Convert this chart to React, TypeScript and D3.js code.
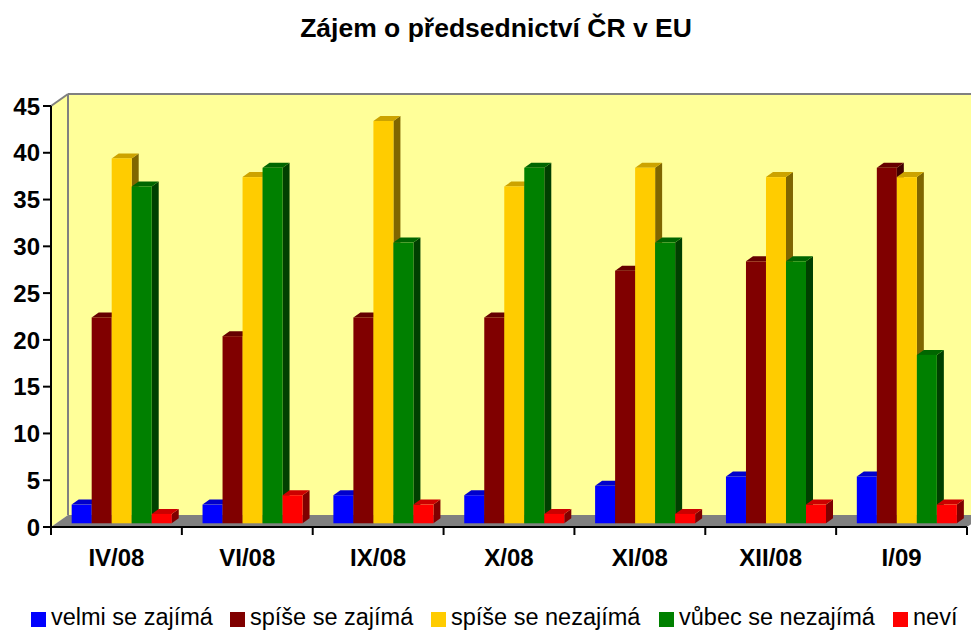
import React from "react";
import * as d3 from "d3";

const categories = ["IV/08", "VI/08", "IX/08", "X/08", "XI/08", "XII/08", "I/09"];
const seriesNames = ["velmi se zajímá", "spíše se zajímá", "spíše se nezajímá", "vůbec se nezajímá", "neví"];
const velmi = [2, 2, 3, 3, 4, 5, 5];
const spiseZaj = [22, 20, 22, 22, 27, 28, 38];
const spiseNez = [39, 37, 43, 36, 38, 37, 37];
const vubec = [36, 38, 30, 38, 30, 28, 18];
const nevi = [1, 3, 2, 1, 1, 2, 2];
const yTicks = [0, 5, 10, 15, 20, 25, 30, 35, 40, 45];
const colors = ["#0000FF", "#800000", "#FFCC00", "#008000", "#FF0000"];

const seriesValues = [velmi, spiseZaj, spiseNez, vubec, nevi];

const W = 971;
const H = 631;
const FONT = "'Liberation Sans', Arial, Helvetica, sans-serif";

export default function App() {
  const x0 = 51, x1 = 967, yBottom = 527, yTop = 106;
  const DX = 17, DY = 12; // chart depth
  const y = d3.scaleLinear().domain([0, 45]).range([yBottom, yTop]);
  const xBand = d3.scaleBand<string>().domain(categories).range([x0, x1]).paddingInner(0).paddingOuter(0);
  const inner = d3.scaleBand<string>().domain(seriesNames).range([0, xBand.bandwidth()]).paddingInner(0).paddingOuter(0.77);
  const barFrontD = 0.31;
  const bdx = 7, bdy = 5;
  const shiftX = DX * barFrontD, shiftY = DY * barFrontD;

  const darker = (c: string, k: number) => {
    const col = d3.rgb(c);
    return d3.rgb(col.r * k, col.g * k, col.b * k).toString();
  };

  const bars: JSX.Element[] = [];
  categories.forEach((cat, ci) => {
    seriesNames.forEach((s, si) => {
      const v = seriesValues[si][ci];
      const bx = (xBand(cat) as number) + (inner(s) as number) + shiftX;
      const bw = inner.bandwidth();
      const yb = y(0) - shiftY;
      const yt = y(v) - shiftY;
      const c = colors[si];
      bars.push(
        <g key={`${ci}-${si}`}>
          <polygon
            points={`${bx + bw},${yt} ${bx + bw + bdx},${yt - bdy} ${bx + bw + bdx},${yb - bdy} ${bx + bw},${yb}`}
            fill={darker(c, 0.5)}
          />
          <polygon
            points={`${bx},${yt} ${bx + bdx},${yt - bdy} ${bx + bw + bdx},${yt - bdy} ${bx + bw},${yt}`}
            fill={darker(c, 0.8)}
          />
          <rect x={bx} y={yt} width={bw} height={yb - yt} fill={c} />
        </g>
      );
    });
  });

  const legendItems = [
    { x: 31, tx: 51 },
    { x: 230, tx: 250 },
    { x: 431, tx: 451 },
    { x: 659, tx: 679 },
    { x: 893, tx: 913 },
  ];

  return (
    <svg width={W} height={H} style={{ position: "absolute", left: 0, top: 0, background: "#fff" }} fontFamily={FONT}>
      <text x={496} y={37} textAnchor="middle" fontSize={26.5} fontWeight="bold" fill="#000">
        Zájem o předsednictví ČR v EU
      </text>

      {/* back wall */}
      <polygon points={`${x0 + DX},${yTop - DY} ${x1 + DX + 30},${yTop - DY} ${x1 + DX + 30},${yBottom - DY} ${x0 + DX},${yBottom - DY}`} fill="#FFFF99" />
      {/* left wall */}
      <polygon points={`${x0},${yTop} ${x0 + DX},${yTop - DY} ${x0 + DX},${yBottom - DY} ${x0},${yBottom}`} fill="#FFFF99" />
      <line x1={x0 + DX} y1={yTop - DY} x2={x1 + DX + 30} y2={yTop - DY} stroke="#808080" strokeWidth={2} />
      <line x1={x0 + DX} y1={yTop - DY} x2={x0 + DX} y2={yBottom - DY} stroke="#808080" strokeWidth={2} />
      <line x1={x0} y1={yTop} x2={x0 + DX} y2={yTop - DY} stroke="#808080" strokeWidth={2} />
      {/* floor */}
      <polygon points={`${x0},${yBottom} ${x1},${yBottom} ${x1 + DX},${yBottom - DY} ${x0 + DX},${yBottom - DY}`} fill="#808080" />

      {bars}

      {/* axes */}
      <line x1={x0} y1={yTop} x2={x0} y2={yBottom} stroke="#000" strokeWidth={2} />
      <line x1={x0} y1={yBottom} x2={x1} y2={yBottom} stroke="#000" strokeWidth={2} />
      {yTicks.map((t) => (
        <g key={t}>
          <line x1={x0 - 8} x2={x0} y1={y(t)} y2={y(t)} stroke="#000" strokeWidth={2} />
          <text x={40} y={y(t)} dy="0.36em" textAnchor="end" fontSize={24} fontWeight="bold" fill="#000">
            {t}
          </text>
        </g>
      ))}
      {categories.map((c, i) => (
        <g key={c}>
          <line x1={xBand(c) as number} x2={xBand(c) as number} y1={yBottom} y2={yBottom + 8} stroke="#000" strokeWidth={2} />
          {i === categories.length - 1 && (
            <line x1={x1} x2={x1} y1={yBottom} y2={yBottom + 8} stroke="#000" strokeWidth={2} />
          )}
          <text x={(xBand(c) as number) + xBand.bandwidth() / 2} y={566} textAnchor="middle" fontSize={24} fontWeight="bold" fill="#000">
            {c}
          </text>
        </g>
      ))}

      {/* legend */}
      {seriesNames.map((s, i) => (
        <g key={s}>
          <rect x={legendItems[i].x} y={612} width={15} height={15} fill={colors[i]} />
          <text x={legendItems[i].tx} y={625} fontSize={23.5} fill="#000">
            {s}
          </text>
        </g>
      ))}
    </svg>
  );
}
